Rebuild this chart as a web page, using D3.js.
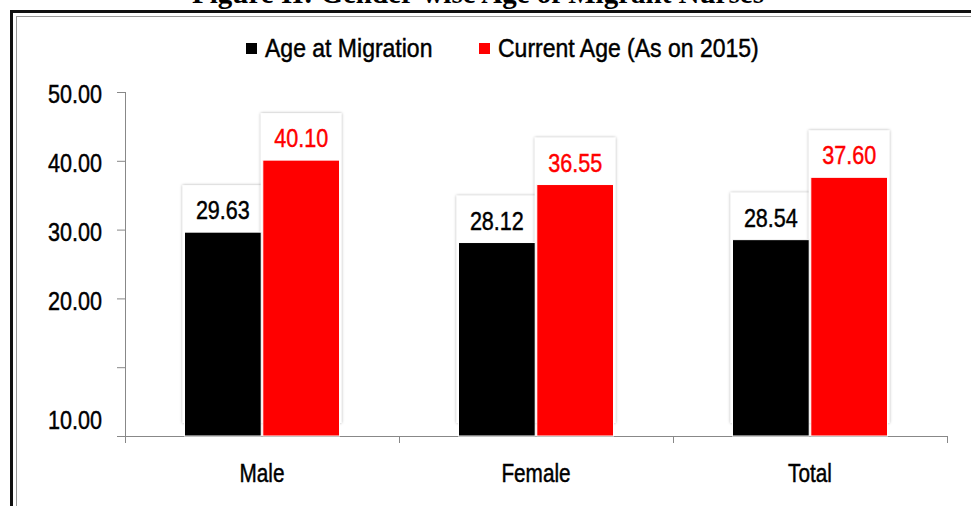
<!DOCTYPE html>
<html>
<head>
<meta charset="utf-8">
<script src="https://cdn.jsdelivr.net/npm/d3@7"></script>
<style>
  body { margin: 0; background: #fff; }
  svg { display: block; }
  .narrow { font-family: "Liberation Sans", Arial, sans-serif; stroke-width: 0.45px; }
</style>
</head>
<body>
<svg></svg>
<script>
// chart data
let categories = ['Male', 'Female', 'Total']
let seriesNames = ['Age at Migration', 'Current Age (As on 2015)']
let ageAtMigration = [29.63, 28.12, 28.54]
let currentAge = [40.10, 36.55, 37.60]
let tickValues = [0, 10, 20, 30, 40, 50]
let tickLabels = ['10.00', '', '20.00', '30.00', '40.00', '50.00']
let colors = ['#000000', '#ff0000']
let titleText = 'Figure II: Gender-wise Age of Migrant Nurses'

let width = 971
let height = 506
let plotLeft = 125
let plotRight = 947
let plotTop = 92
let plotBottom = 436
// Arial Narrow look: squeeze Liberation Sans sideways
let squeeze = 0.83

let svg = d3.select('svg')
svg.attr('width', width).attr('height', height)

let defs = svg.append('defs')
let filter = defs.append('filter').attr('id', 'shadow')
    .attr('x', '-20%').attr('y', '-20%').attr('width', '140%').attr('height', '140%')
filter.append('feDropShadow')
    .attr('dx', 0).attr('dy', 0)
    .attr('stdDeviation', 1.6)
    .attr('flood-color', '#000')
    .attr('flood-opacity', 0.35)

// frame
svg.append('rect')
    .attr('x', 11.5).attr('y', 11.5)
    .attr('width', 980).attr('height', 520)
    .attr('fill', 'none').attr('stroke', '#111').attr('stroke-width', 3)
svg.append('rect')
    .attr('x', 16.5).attr('y', 16.5)
    .attr('width', 980).attr('height', 520)
    .attr('fill', 'none').attr('stroke', '#999').attr('stroke-width', 1)

// title (cut off at the top, as in the source)
svg.append('text')
    .attr('x', 478).attr('y', 3)
    .attr('text-anchor', 'middle')
    .style('font-family', '"Liberation Serif", "Times New Roman", serif')
    .style('font-weight', 'bold')
    .style('font-size', '29px')
    .text(titleText)

// scales
let yScale = d3.scaleLinear().domain([0, 50]).range([plotBottom, plotTop])
let xBand = d3.scaleBand().domain(categories).range([plotLeft, plotRight])
let xEdges = d3.scaleLinear().domain([0, categories.length]).range([plotLeft, plotRight])
let xInner = d3.scaleBand().domain([0, 1]).range([0, 155]).paddingInner(0.02)
let groupOffset = (xBand.bandwidth() - 155) / 2

// axes
let yAxis = d3.axisLeft(yScale)
    .tickValues(tickValues)
    .tickSize(8)
    .tickSizeOuter(0)
    .tickFormat((d, i) => tickLabels[i])
let yG = svg.append('g')
    .attr('transform', 'translate(' + plotLeft + ',0)')
    .call(yAxis)
yG.select('.domain').attr('stroke', '#888').attr('d', 'M0.5,' + plotTop + 'V' + (plotBottom + 7))
yG.selectAll('.tick line').attr('stroke', '#888')
yG.selectAll('.tick text')
    .attr('class', 'narrow')
    .attr('x', 0)
    .attr('dy', (d, i) => i === 0 ? '-0.3em' : '0.41em')
    .attr('transform', 'translate(-23,0) scale(' + squeeze + ',1)')
    .style('font-size', '26px')
    .attr('fill', '#000')
    .attr('stroke', '#000')

let xAxis = d3.axisBottom(xEdges)
    .tickValues(d3.range(categories.length + 1))
    .tickSize(7)
    .tickSizeOuter(0)
    .tickFormat('')
let xG = svg.append('g')
    .attr('transform', 'translate(0,' + plotBottom + ')')
    .call(xAxis)
xG.select('.domain').attr('stroke', '#888')
xG.selectAll('.tick line').attr('stroke', '#888')

// category labels
svg.selectAll('.cat')
    .data(categories)
    .enter()
    .append('text')
    .attr('class', 'narrow')
    .attr('transform', d => 'translate(' + (xBand(d) + xBand.bandwidth() / 2) + ',482) scale(' + squeeze + ',1)')
    .attr('text-anchor', 'middle')
    .style('font-size', '25px')
    .attr('stroke', '#000')
    .text(d => d)

// bars
let series = [ageAtMigration, currentAge]
let barData = []
categories.forEach((c, ci) => {
    series.forEach((s, si) => {
        barData.push({cat: c, s: si, value: s[ci]})
    })
})

let barX = d => xBand(d.cat) + groupOffset + xInner(d.s)

// label boxes behind bars
svg.selectAll('.lbox')
    .data(barData)
    .enter()
    .append('rect')
    .attr('x', d => barX(d) - 2)
    .attr('y', d => yScale(d.value) - 47)
    .attr('width', xInner.bandwidth() + 4)
    .attr('height', d => 423 - (yScale(d.value) - 47))
    .attr('fill', '#fff')
    .attr('filter', 'url(#shadow)')

svg.selectAll('.bar')
    .data(barData)
    .enter()
    .append('rect')
    .attr('x', d => barX(d))
    .attr('y', d => yScale(d.value))
    .attr('width', xInner.bandwidth())
    .attr('height', d => plotBottom - yScale(d.value))
    .attr('fill', d => colors[d.s])
    .attr('stroke', '#fff')
    .attr('stroke-width', 1)

svg.selectAll('.val')
    .data(barData)
    .enter()
    .append('text')
    .attr('class', 'narrow')
    .attr('transform', d => 'translate(' + (barX(d) + xInner.bandwidth() / 2) + ',' + (yScale(d.value) - 13) + ') scale(' + squeeze + ',1)')
    .attr('text-anchor', 'middle')
    .style('font-size', '26px')
    .attr('fill', d => colors[d.s])
    .attr('stroke', d => colors[d.s])
    .text(d => d.value.toFixed(2))

// legend
let legendX = [246, 479]
let legend = svg.selectAll('.leg')
    .data(seriesNames)
    .enter()
    .append('g')
    .attr('transform', (d, i) => 'translate(' + legendX[i] + ',43)')
legend.append('rect')
    .attr('width', 11).attr('height', 11)
    .attr('fill', (d, i) => colors[i])
legend.append('text')
    .attr('class', 'narrow')
    .attr('transform', 'translate(19,14) scale(0.92,1)')
    .style('font-size', '25px')
    .attr('stroke', '#000')
    .text(d => d)
</script>
</body>
</html>
